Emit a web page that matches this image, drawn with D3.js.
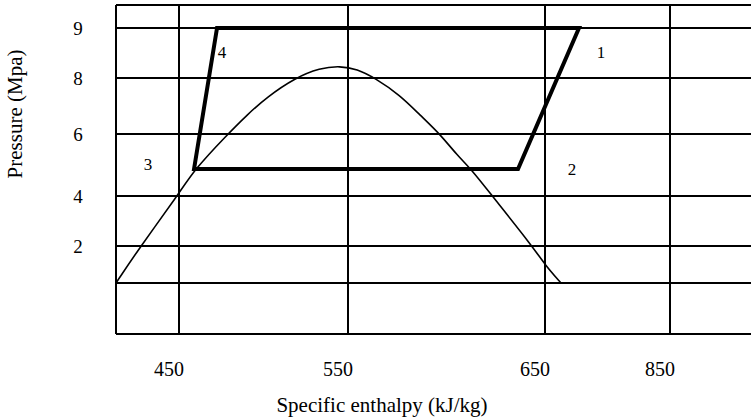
<!DOCTYPE html>
<html>
<head>
<meta charset="utf-8">
<script src="https://cdn.jsdelivr.net/npm/d3@7"></script>
<style>
  body { margin: 0; background: #fff; }
  text { font-family: "Liberation Serif", "Times New Roman", serif; fill: #000; }
</style>
</head>
<body>
<svg class="chart"></svg>
<script>
// tick labels / grid values
var enthalpyTicks = [450, 550, 650, 850];
var pressureTicks = [9, 8, 6, 4, 2];
var pressureGrid = [1, 2, 4, 6, 8, 9];

// saturation dome (enthalpy kJ/kg, pressure MPa)
var domeH = [410, 425.2, 449.4, 458.9, 478.4, 490.2, 502.1, 518.6, 533.4, 545.3, 554.6, 563.7,
             576.4, 586.5, 596.7, 605.3, 612.9, 623.6, 643.9, 650, 675.6];
var domeP = [1.0, 1.97, 4.03, 4.84, 5.97, 6.68, 7.32, 8.0, 8.2, 8.24, 8.18, 8.0,
             7.39, 6.68, 6.0, 5.32, 4.84, 3.96, 1.97, 1.49, 1.0];

// cycle corners
var cycleH = [458.9, 472.5, 704.4, 636.3];
var cycleP = [4.87, 9, 9, 4.87];

// state point labels
var stateNames = ["1", "2", "3", "4"];
var stateH = [739.6, 693.2, 430.3, 475.4];
var stateP = [8.52, 4.84, 5.03, 8.52];

function show() {
    'use strict';

    var margin = { top: 5, left: 116, right: 0, bottom: 83 },
        width = 751 - margin.left - margin.right,
        height = 417 - margin.top - margin.bottom;

    var svg = d3.select(".chart")
        .attr("width", 751)
        .attr("height", 417);

    var chart = svg.append("g")
        .attr("transform", "translate(" + margin.left + "," + margin.top + ")");

    // schematic axes: uneven spacing, so piecewise scales
    var x = d3.scaleLinear()
        .domain([410, 450, 550, 650, 850, 980])
        .range([0, 63, 232, 429, 554, width]);

    var y = d3.scaleLinear()
        .domain([0, 1, 2, 4, 6, 8, 9, 10])
        .range([height, 278, 241, 191, 129, 73, 23, 0]);

    // grid
    chart.selectAll(".hgrid").data([10].concat(pressureGrid).concat([0]))
      .enter().append("line")
        .attr("x1", 0).attr("x2", width)
        .attr("y1", d => y(d)).attr("y2", d => y(d))
        .attr("stroke", "#000").attr("stroke-width", 2);

    chart.selectAll(".vgrid").data([410].concat(enthalpyTicks))
      .enter().append("line")
        .attr("x1", d => x(d)).attr("x2", d => x(d))
        .attr("y1", 0).attr("y2", height)
        .attr("stroke", "#000").attr("stroke-width", 2);

    // dome
    var dome = domeH.map((h, i) => [h, domeP[i]]);
    chart.append("path")
        .datum(dome)
        .attr("fill", "none")
        .attr("stroke", "#000")
        .attr("stroke-width", 1.6)
        .attr("d", d3.line()
            .x(d => x(d[0])).y(d => y(d[1]))
            .curve(d3.curveBasis));

    // cycle
    var cycle = cycleH.map((h, i) => [h, cycleP[i]]);
    chart.append("path")
        .datum(cycle)
        .attr("fill", "none")
        .attr("stroke", "#000")
        .attr("stroke-width", 4)
        .attr("stroke-linejoin", "miter")
        .attr("d", d3.line().x(d => x(d[0])).y(d => y(d[1])).curve(d3.curveLinearClosed));

    // state labels
    chart.selectAll(".state").data(stateNames)
      .enter().append("text")
        .attr("x", (d, i) => x(stateH[i]))
        .attr("y", (d, i) => y(stateP[i]))
        .attr("text-anchor", "middle")
        .attr("dominant-baseline", "central")
        .attr("font-size", 17)
        .text(d => d);

    // tick labels
    chart.selectAll(".xt").data(enthalpyTicks)
      .enter().append("text")
        .attr("x", d => x(d) - 10)
        .attr("y", height + 35)
        .attr("text-anchor", "middle")
        .attr("dominant-baseline", "central")
        .attr("font-size", 20)
        .text(d => d);

    chart.selectAll(".yt").data(pressureTicks)
      .enter().append("text")
        .attr("x", -38)
        .attr("y", d => y(d))
        .attr("text-anchor", "middle")
        .attr("dominant-baseline", "central")
        .attr("font-size", 19)
        .text(d => d);

    // axis titles
    svg.append("text")
        .attr("x", 382).attr("y", 405)
        .attr("text-anchor", "middle")
        .attr("dominant-baseline", "central")
        .attr("font-size", 21)
        .text("Specific enthalpy (kJ/kg)");

    svg.append("text")
        .attr("transform", "translate(15,114) rotate(-90)")
        .attr("text-anchor", "middle")
        .attr("dominant-baseline", "central")
        .attr("font-size", 21)
        .text("Pressure (Mpa)");
}
show();
</script>
</body>
</html>
